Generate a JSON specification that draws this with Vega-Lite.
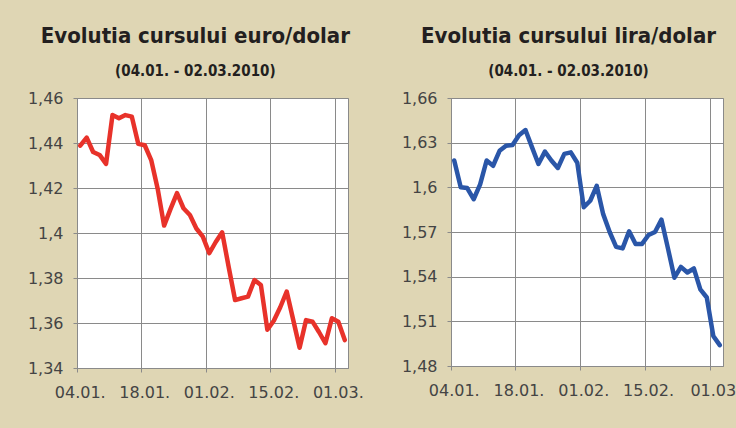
{
  "$schema": "https://vega.github.io/schema/vega-lite/v6.json",
  "background": "#dfd6b4",
  "padding": {"left": 26, "top": 24, "right": 2, "bottom": 34},
  "datasets": {
    "fx": [
      {"d": "04.01.", "eur": 1.4388, "lira": 1.618},
      {"d": "05.01.", "eur": 1.4424, "lira": 1.600},
      {"d": "06.01.", "eur": 1.436, "lira": 1.5995},
      {"d": "07.01.", "eur": 1.4347, "lira": 1.592},
      {"d": "08.01.", "eur": 1.4307, "lira": 1.602},
      {"d": "11.01.", "eur": 1.4524, "lira": 1.618},
      {"d": "12.01.", "eur": 1.451, "lira": 1.6145},
      {"d": "13.01.", "eur": 1.4524, "lira": 1.6245},
      {"d": "14.01.", "eur": 1.4517, "lira": 1.628},
      {"d": "15.01.", "eur": 1.4396, "lira": 1.6285},
      {"d": "18.01.", "eur": 1.439, "lira": 1.635},
      {"d": "19.01.", "eur": 1.4324, "lira": 1.6385},
      {"d": "20.01.", "eur": 1.4197, "lira": 1.627},
      {"d": "21.01.", "eur": 1.4033, "lira": 1.6157},
      {"d": "22.01.", "eur": 1.4107, "lira": 1.624},
      {"d": "25.01.", "eur": 1.4177, "lira": 1.618},
      {"d": "26.01.", "eur": 1.411, "lira": 1.613},
      {"d": "27.01.", "eur": 1.408, "lira": 1.6225},
      {"d": "28.01.", "eur": 1.402, "lira": 1.6235},
      {"d": "29.01.", "eur": 1.3984, "lira": 1.6165},
      {"d": "01.02.", "eur": 1.391, "lira": 1.5866},
      {"d": "02.02.", "eur": 1.396, "lira": 1.591},
      {"d": "03.02.", "eur": 1.4003, "lira": 1.601},
      {"d": "04.02.", "eur": 1.385, "lira": 1.582},
      {"d": "05.02.", "eur": 1.3702, "lira": 1.570},
      {"d": "08.02.", "eur": 1.371, "lira": 1.560},
      {"d": "09.02.", "eur": 1.3717, "lira": 1.559},
      {"d": "10.02.", "eur": 1.3791, "lira": 1.5705},
      {"d": "11.02.", "eur": 1.3769, "lira": 1.562},
      {"d": "12.02.", "eur": 1.357, "lira": 1.562},
      {"d": "15.02.", "eur": 1.361, "lira": 1.568},
      {"d": "16.02.", "eur": 1.367, "lira": 1.570},
      {"d": "17.02.", "eur": 1.374, "lira": 1.5783},
      {"d": "18.02.", "eur": 1.3615, "lira": 1.559},
      {"d": "19.02.", "eur": 1.349, "lira": 1.5393},
      {"d": "22.02.", "eur": 1.3613, "lira": 1.5466},
      {"d": "23.02.", "eur": 1.3606, "lira": 1.5428},
      {"d": "24.02.", "eur": 1.356, "lira": 1.5455},
      {"d": "25.02.", "eur": 1.351, "lira": 1.5315},
      {"d": "26.02.", "eur": 1.3621, "lira": 1.526},
      {"d": "01.03.", "eur": 1.3606, "lira": 1.5002},
      {"d": "02.03.", "eur": 1.3524, "lira": 1.494}
    ]
  },
  "data": {"name": "fx"},
  "spacing": 36,
  "hconcat": [
    {
      "width": 271,
      "height": 270,
      "title": {"text": "Evolutia cursului euro/dolar", "subtitle": "(04.01. - 02.03.2010)"},
      "mark": {"type": "line", "color": "#e8322a", "strokeWidth": 4.5, "strokeJoin": "round", "strokeCap": "round"},
      "encoding": {
        "x": {
          "field": "d", "type": "ordinal", "sort": null,
          "scale": {"type": "band", "paddingInner": 0, "paddingOuter": 0},
          "axis": {"title": null, "values": ["04.01.", "18.01.", "01.02.", "15.02.", "01.03."], "bandPosition": 0, "labelAngle": 0, "labelPadding": 12, "grid": true}
        },
        "y": {
          "field": "eur", "type": "quantitative",
          "scale": {"domain": [1.34, 1.46], "nice": false, "zero": false},
          "axis": {"title": null, "values": [1.34, 1.36, 1.38, 1.4, 1.42, 1.44, 1.46], "labelExpr": "replace(toString(datum.value), '.', ',')", "labelPadding": 10}
        }
      }
    },
    {
      "width": 272,
      "height": 268,
      "title": {"text": "Evolutia cursului lira/dolar", "subtitle": "(04.01. - 02.03.2010)"},
      "mark": {"type": "line", "color": "#2a56a8", "strokeWidth": 4.5, "strokeJoin": "round", "strokeCap": "round"},
      "encoding": {
        "x": {
          "field": "d", "type": "ordinal", "sort": null,
          "scale": {"type": "band", "paddingInner": 0, "paddingOuter": 0},
          "axis": {"title": null, "values": ["04.01.", "18.01.", "01.02.", "15.02.", "01.03."], "labelExpr": "datum.value == '01.03.' ? '01.03' : datum.value", "bandPosition": 0, "labelAngle": 0, "labelPadding": 12, "grid": true}
        },
        "y": {
          "field": "lira", "type": "quantitative",
          "scale": {"domain": [1.48, 1.66], "nice": false, "zero": false},
          "axis": {"title": null, "values": [1.48, 1.51, 1.54, 1.57, 1.6, 1.63, 1.66], "labelExpr": "replace(toString(datum.value), '.', ',')", "labelPadding": 10}
        }
      }
    }
  ],
  "config": {
    "view": {"stroke": "#8a8a8a", "fill": "#ffffff"},
    "axis": {
      "labelFont": "DejaVu Sans", "labelFontSize": 16, "labelColor": "#444444",
      "gridColor": "#8a8a8a", "gridOpacity": 1, "gridWidth": 1,
      "domainColor": "#8a8a8a", "tickColor": "#8a8a8a", "tickSize": 4
    },
    "title": {
      "font": "DejaVu Sans Condensed, sans-serif",
      "fontSize": 22, "fontWeight": "bold", "color": "#231f20",
      "subtitleFont": "DejaVu Sans Condensed, sans-serif",
      "subtitleFontSize": 15, "subtitleFontWeight": "bold", "subtitleColor": "#231f20",
      "subtitlePadding": 16, "offset": 10, "anchor": "middle", "frame": "bounds"
    }
  }
}
